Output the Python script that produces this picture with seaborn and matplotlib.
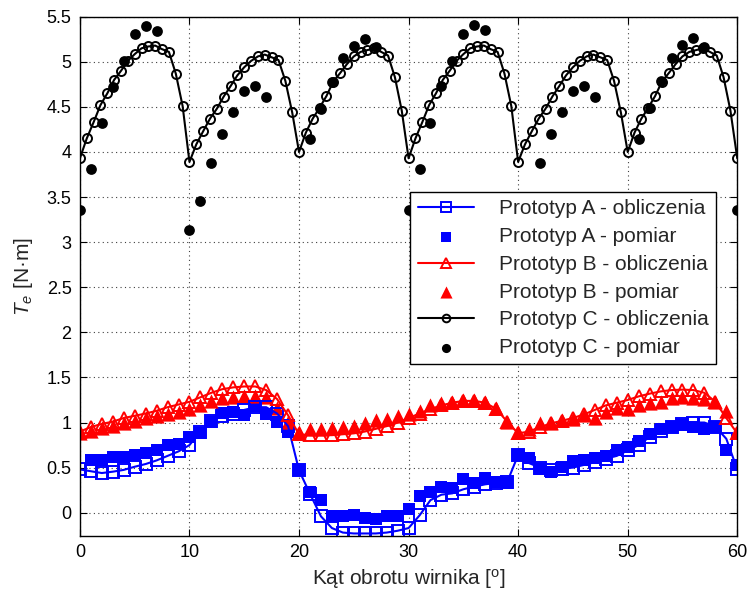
import numpy as np
import pandas as pd
import matplotlib
matplotlib.use("Agg")
import matplotlib.pyplot as plt
from matplotlib.ticker import FuncFormatter, MultipleLocator
import seaborn as sns

# ---------------- data ----------------
angle_calc_ab = np.arange(0, 61)              # 1 deg sampling for prototypes A and B
angle_calc_c = np.linspace(0, 60, 97)         # 0.625 deg sampling for prototype C

a_calc = [0.48, 0.46, 0.44, 0.455, 0.475, 0.51, 0.54, 0.58, 0.63, 0.68,
          0.75, 0.90, 1.02, 1.07, 1.10, 1.14, 1.17, 1.17, 1.10, 0.96,
          0.47, 0.21, -0.04, -0.17, -0.22, -0.23, -0.23, -0.23, -0.22, -0.20,
          -0.17, -0.03, 0.14, 0.20, 0.215, 0.26, 0.29, 0.315, 0.33, 0.34,
          0.64, 0.55, 0.50, 0.47, 0.49, 0.50, 0.53, 0.56, 0.60, 0.63,
          0.69, 0.75, 0.84, 0.91, 0.95, 0.98, 1.00, 1.00, 0.955, 0.82,
          0.48]

a_meas_x = list(range(1, 61))
a_meas = [0.585, 0.585, 0.615, 0.615, 0.64, 0.66, 0.70, 0.75, 0.76,
          0.84, 0.88, 1.01, 1.11, 1.12, 1.08, 1.18, 1.10, 1.01, 0.90,
          0.47, 0.23, 0.14, -0.04, -0.04, -0.03, -0.06, -0.075, -0.04, -0.04,
          0.04, 0.18, 0.23, 0.29, 0.27, 0.375, 0.33, 0.39, 0.34, 0.33,
          0.64, 0.61, 0.49, 0.455, 0.51, 0.57, 0.59, 0.61, 0.63, 0.69,
          0.73, 0.80, 0.87, 0.93, 0.95, 0.97, 0.95, 0.93, 0.95, 0.70,
          0.53]

b_calc = [0.90, 0.95, 0.985, 1.01, 1.05, 1.075, 1.10, 1.13, 1.17, 1.20,
          1.23, 1.28, 1.33, 1.37, 1.39, 1.40, 1.40, 1.36, 1.26, 1.08,
          0.87, 0.86, 0.86, 0.86, 0.87, 0.88, 0.90, 0.93, 0.96, 1.00,
          1.05, 1.10, 1.15, 1.19, 1.22, 1.24, 1.24, 1.22, 1.15, 1.01,
          0.88, 0.90, 0.95, 0.99, 1.02, 1.05, 1.09, 1.14, 1.19, 1.22,
          1.25, 1.29, 1.32, 1.345, 1.36, 1.365, 1.36, 1.33, 1.23, 1.05,
          0.88]

b_meas_x = list(range(0, 61))
b_meas = [0.88, 0.91, 0.94, 0.96, 0.99, 1.02, 1.05, 1.07, 1.09, 1.12,
          1.15, 1.19, 1.24, 1.27, 1.28, 1.29, 1.29, 1.28, 1.16, 1.01,
          0.90, 0.93, 0.93, 0.94, 0.955, 0.96, 0.99, 1.03, 1.035, 1.07,
          1.10, 1.13, 1.20, 1.215, 1.23, 1.25, 1.245, 1.23, 1.16, 1.01,
          0.89, 0.93, 0.99, 1.00, 1.03, 1.04, 1.085, 1.05, 1.12, 1.16,
          1.15, 1.20, 1.215, 1.23, 1.27, 1.28, 1.27, 1.26, 1.23, 1.13,
          0.89]

c_calc = [3.93, 4.15, 4.33, 4.52, 4.65, 4.80, 4.90, 5.01, 5.085, 5.15, 5.17, 5.18, 5.14, 5.11, 4.87, 4.51,
          3.89, 4.085, 4.23, 4.37, 4.48, 4.615, 4.73, 4.85, 4.94, 5.01, 5.06, 5.08, 5.05, 5.02, 4.79, 4.44,
          4.00, 4.215, 4.37, 4.49, 4.62, 4.78, 4.875, 4.975, 5.06, 5.11, 5.13, 5.15, 5.11, 5.07, 4.83, 4.46,
          3.93, 4.15, 4.33, 4.52, 4.65, 4.80, 4.90, 5.01, 5.085, 5.15, 5.17, 5.18, 5.14, 5.11, 4.87, 4.51,
          3.89, 4.085, 4.23, 4.37, 4.48, 4.615, 4.73, 4.85, 4.94, 5.01, 5.06, 5.08, 5.05, 5.02, 4.79, 4.44,
          4.00, 4.215, 4.37, 4.49, 4.62, 4.78, 4.875, 4.975, 5.06, 5.11, 5.13, 5.15, 5.11, 5.07, 4.83, 4.46,
          3.93]

c_meas_x = [0, 1, 2, 3, 4, 5, 6, 7,
            10, 11, 12, 13, 14, 15, 16, 17,
            21, 22, 23, 24, 25, 26, 27,
            30, 31, 32, 33, 34, 35, 36, 37,
            40, 41, 42, 43, 44, 45, 46, 47,
            51, 52, 53, 54, 55, 56, 57,
            60]
c_meas = [3.36, 3.81, 4.32, 4.72, 5.01, 5.31, 5.40, 5.34,
          3.13, 3.455, 3.88, 4.20, 4.44, 4.68, 4.73, 4.615,
          4.14, 4.48, 4.78, 5.04, 5.18, 5.25, 5.16,
          3.36, 3.81, 4.32, 4.73, 5.01, 5.31, 5.41, 5.355,
          3.13, 3.455, 3.88, 4.20, 4.44, 4.68, 4.73, 4.615,
          4.14, 4.49, 4.79, 5.04, 5.19, 5.26, 5.16,
          3.36]

labels = ["Prototyp A - obliczenia", "Prototyp A - pomiar",
          "Prototyp B - obliczenia", "Prototyp B - pomiar",
          "Prototyp C - obliczenia", "Prototyp C - pomiar"]
x_ticks = [0, 10, 20, 30, 40, 50, 60]

# ---------------- style ----------------
sns.set_style("ticks")
plt.rcParams['font.family'] = ['Liberation Sans', 'DejaVu Sans']
plt.rcParams['mathtext.fontset'] = 'custom'
plt.rcParams['mathtext.it'] = 'Liberation Sans:italic'
plt.rcParams['mathtext.rm'] = 'Liberation Sans'
plt.rcParams['legend.numpoints'] = 1

fig = plt.figure(figsize=(7.51, 5.93), dpi=100)
ax = fig.add_axes([0.1064, 0.0966, 0.8753, 0.8752])

# ---------------- plotting ----------------
sns.lineplot(x=angle_calc_ab, y=a_calc, ax=ax, color='blue', lw=1.5,
             marker='s', markersize=8, markerfacecolor='none',
             markeredgecolor='blue', markeredgewidth=1.4,
             label=labels[0], legend=False)
sns.scatterplot(x=a_meas_x, y=a_meas, ax=ax, marker='s', color='blue',
                edgecolor='blue', linewidth=0, s=85, label=labels[1], legend=False)
sns.lineplot(x=angle_calc_ab, y=b_calc, ax=ax, color='red', lw=1.5,
             marker='^', markersize=9, markerfacecolor='none',
             markeredgecolor='red', markeredgewidth=1.4,
             label=labels[2], legend=False)
sns.scatterplot(x=b_meas_x, y=b_meas, ax=ax, marker='^', color='red',
                edgecolor='red', linewidth=0, s=105, label=labels[3], legend=False)
sns.lineplot(x=angle_calc_c, y=c_calc, ax=ax, color='black', lw=1.5,
             marker='o', markersize=6.5, markerfacecolor='none',
             markeredgecolor='black', markeredgewidth=1.4,
             label=labels[4], legend=False)
sns.scatterplot(x=c_meas_x, y=c_meas, ax=ax, marker='o', color='black',
                edgecolor='black', linewidth=0, s=60, label=labels[5], legend=False)

# ---------------- axes ----------------
ax.set_xlim(0, 60)
ax.set_ylim(-0.255, 5.5)
ax.set_xticks(x_ticks)
ax.yaxis.set_major_locator(MultipleLocator(0.5))
ax.yaxis.set_major_formatter(FuncFormatter(lambda v, p: f"{v:g}"))
ax.tick_params(direction='in', top=True, right=True, length=5, width=0.8,
               labelsize=13, pad=6, colors='black')
ax.grid(True, linestyle=(0, (1, 3)), color='0.25', linewidth=0.8)
for s in ax.spines.values():
    s.set_visible(True)
    s.set_linewidth(1.0)
    s.set_color('black')

ax.set_xlabel("Kąt obrotu wirnika [$^{\\mathregular{o}}$]", fontsize=15, labelpad=4)
ax.set_ylabel("$T_e$ [N·m]", fontsize=15, labelpad=8)

handles, labs = ax.get_legend_handles_labels()
order = [labs.index(l) for l in labels]
leg = ax.legend([handles[i] for i in order], [labs[i] for i in order],
                loc='upper right', bbox_to_anchor=(0.9676, 0.6622),
                borderaxespad=0, fontsize=15, handlelength=2.7,
                handletextpad=1.2, labelspacing=0.42, borderpad=0.35,
                fancybox=False, framealpha=1, edgecolor='black',
                markerscale=0.85)
leg.get_frame().set_linewidth(1.0)

fig.savefig("out.png", dpi=100)
